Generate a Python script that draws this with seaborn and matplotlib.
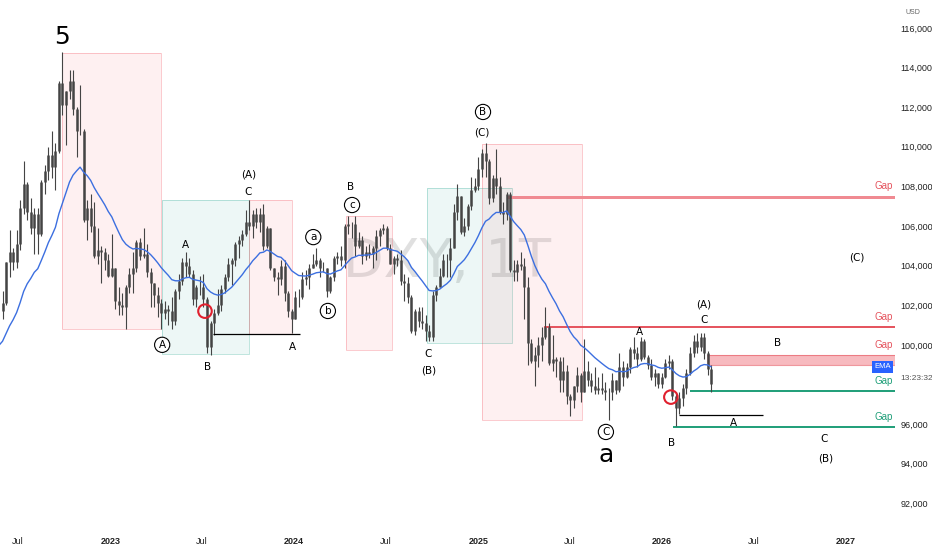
import pandas as pd
import matplotlib
matplotlib.use("Agg")
import matplotlib.pyplot as plt
import matplotlib.dates as mdates
from matplotlib import font_manager
from matplotlib.patches import Rectangle
from matplotlib.ticker import FuncFormatter, FixedLocator
import seaborn as sns

# weekly closes before the visible window (only used to warm up the EMA)
warmup_close = [95.7, 95.2, 95.6, 97.3, 95.5, 96.1, 96.1, 96.6, 98.6, 99.1,
                98.2, 98.8, 98.6, 99.8, 100.5, 101.1, 103.0, 103.7, 104.6, 103.2]

# weekly candles, week ending 2022-05-27 ... 2026-04-10
weekly_close = [
    101.7, 102.1, 104.2, 104.7, 104.2, 105.1, 106.9, 108.1, 106.7, 105.9,
    106.6, 105.6, 108.2, 108.8, 109.6, 109.0, 109.8, 113.2, 112.1, 112.8,
    113.3, 111.9, 110.8, 110.8, 106.3, 106.9, 106.0, 104.5, 104.8, 104.7,
    104.3, 103.5,
    # 2023
    103.9, 102.2, 102.0, 101.9, 102.9, 103.6, 103.9, 105.2, 104.5, 104.6,
    103.7, 103.1, 102.5, 102.1, 101.6, 101.8, 101.7, 101.2, 102.7, 103.2,
    104.2, 104.0, 103.6, 102.3, 102.9, 102.9, 102.3, 99.9, 101.1, 101.6,
    102.0, 102.8, 103.4, 104.1, 104.3, 105.1, 105.3, 105.6, 106.2, 106.0,
    106.6, 106.2, 106.6, 105.0, 105.9, 103.9, 103.4, 103.3, 104.0, 102.6,
    101.7, 101.3,
    # 2024
    102.4, 102.4, 103.3, 103.4, 103.9, 104.1, 104.3, 103.9, 103.9, 102.7,
    103.4, 104.4, 104.5, 104.3, 106.0, 106.1, 106.1, 105.0, 105.3, 104.5,
    104.7, 104.6, 104.9, 105.5, 105.8, 105.9, 104.9, 104.1, 104.4, 104.3,
    103.2, 103.1, 102.4, 100.7, 101.7, 101.2, 101.1, 100.7, 100.4, 102.5,
    102.9, 103.5, 104.3, 104.3, 104.9, 106.7, 107.5, 105.7, 106.0, 107.0,
    107.8, 108.0,
    # 2025
    108.9, 109.7, 109.3, 107.4, 108.4, 108.0, 106.7, 106.6, 107.6, 103.8,
    103.7, 104.1, 104.0, 102.9, 100.1, 99.2, 99.5, 100.0, 100.4, 100.9,
    99.1, 99.3, 99.2, 98.2, 98.7, 97.4, 97.2, 97.9, 98.5, 97.6,
    98.7, 98.2, 97.9, 97.7, 97.8, 97.7, 97.6, 97.6, 98.2, 97.7,
    98.9, 98.4, 98.9, 99.8, 99.6, 99.3, 100.2, 99.4, 99.0, 98.4,
    98.6, 98.0,
    # 2026
    98.4, 99.1, 99.2, 97.4, 96.8, 97.3, 97.8, 98.6, 99.6, 100.2,
    99.9, 100.4, 99.6, 98.8, 98.0,
]
weekly_high = [
    103.3, 102.7, 104.2, 105.8, 104.9, 105.8, 107.3, 109.3, 108.2, 107.4,
    106.9, 106.9, 108.3, 109.1, 110.0, 110.8, 110.2, 113.3, 114.8, 112.8,
    113.9, 113.9, 112.0, 113.1, 110.9, 107.3, 107.6, 107.2, 105.9, 105.0,
    104.9, 104.6,
    105.6, 103.9, 102.9, 102.6, 103.0, 103.9, 104.7, 105.3, 105.4, 105.9,
    105.1, 103.9, 103.1, 102.9, 102.3, 102.2, 102.0, 102.4, 102.8, 103.6,
    104.4, 104.7, 104.4, 103.8, 103.0, 103.5, 103.6, 102.4, 101.2, 101.8,
    102.8, 103.0, 103.6, 104.4, 104.4, 105.2, 105.5, 105.8, 106.8, 107.3,
    106.8, 106.9, 106.9, 107.1, 106.0, 105.9, 103.9, 103.7, 104.3, 104.3,
    102.7, 101.8,
    102.7, 102.8, 103.7, 103.8, 104.1, 104.6, 104.9, 104.4, 104.2, 103.9,
    103.5, 104.5, 104.7, 105.0, 106.1, 106.5, 106.2, 106.5, 105.7, 105.5,
    105.0, 105.1, 105.0, 105.8, 105.9, 106.1, 106.0, 105.1, 104.5, 104.6,
    104.8, 103.6, 103.4, 102.5, 101.8, 101.9, 101.9, 101.5, 101.0, 102.7,
    103.0, 103.9, 104.6, 104.6, 105.4, 107.1, 108.1, 107.5, 106.4, 107.1,
    108.5, 108.4,
    109.5, 109.9, 110.2, 109.4, 108.6, 109.9, 108.5, 107.2, 107.7, 107.7,
    104.3, 104.3, 104.7, 104.4, 103.4, 100.3, 99.9, 100.4, 100.9, 101.9,
    101.1, 100.5, 99.4, 99.4, 99.4, 99.0, 97.5, 97.9, 98.9, 98.6,
    100.3, 99.2, 98.6, 98.9, 98.4, 98.6, 98.1, 97.8, 98.6, 98.2,
    99.6, 99.2, 99.1, 99.9, 100.4, 99.9, 100.4, 100.3, 99.5, 99.3,
    98.8, 98.6,
    98.6, 99.3, 99.5, 99.3, 97.6, 97.6, 98.0, 98.8, 99.9, 100.5,
    100.6, 100.6, 100.6, 99.7, 99.0,
]
weekly_low = [
    101.4, 101.3, 102.0, 103.4, 103.8, 103.9, 104.8, 106.6, 106.3, 105.6,
    104.6, 104.6, 105.5, 107.6, 108.3, 108.4, 107.8, 109.7, 111.6, 110.1,
    112.4, 111.6, 109.5, 110.6, 106.2, 105.3, 105.7, 104.4, 104.1, 103.1,
    103.8, 103.4,
    103.4, 101.8, 101.5, 101.5, 100.8, 102.6, 102.6, 103.7, 104.3, 104.4,
    103.4, 101.9, 101.9, 101.4, 100.8, 101.3, 101.0, 100.8, 101.0, 102.3,
    103.0, 103.4, 103.4, 102.0, 101.9, 102.5, 101.9, 99.6, 99.5, 100.5,
    101.5, 101.7, 102.6, 103.2, 103.0, 104.0, 104.4, 105.0, 105.5, 105.8,
    105.4, 105.9, 105.7, 104.8, 104.9, 103.8, 103.2, 102.5, 103.0, 102.2,
    101.4, 100.6,
    101.3, 101.9, 102.3, 103.0, 102.8, 103.9, 104.0, 103.4, 103.7, 102.4,
    102.6, 103.2, 104.1, 104.0, 103.9, 105.6, 105.4, 104.5, 104.9, 104.1,
    104.3, 104.4, 103.9, 104.3, 105.0, 105.6, 104.8, 104.1, 103.6, 104.0,
    103.0, 102.2, 102.1, 100.6, 100.5, 100.9, 100.8, 100.2, 100.2, 100.2,
    102.2, 102.9, 103.4, 103.4, 103.4, 104.9, 106.3, 105.6, 105.5, 105.8,
    106.8, 107.7,
    107.8, 108.5, 108.5, 107.1, 107.2, 107.6, 106.6, 106.1, 106.3, 103.7,
    103.2, 103.2, 103.8, 101.3, 99.0, 99.1, 97.9, 98.9, 99.2, 100.3,
    99.0, 98.7, 98.4, 97.6, 97.6, 97.0, 96.4, 96.8, 97.6, 97.1,
    97.6, 97.9, 97.6, 97.5, 97.5, 97.5, 97.2, 96.2, 97.2, 97.5,
    97.6, 97.9, 98.3, 98.6, 99.3, 98.9, 99.2, 99.3, 98.8, 98.2,
    97.9, 97.8,
    97.8, 98.3, 98.8, 97.2, 95.9, 96.5, 96.9, 97.5, 98.5, 99.4,
    99.6, 99.7, 99.3, 98.5, 97.6,
]

# analysis boxes (time window and price range)
box_start = ["2022-09-28", "2023-04-14", "2023-10-03", "2024-04-13", "2024-09-21", "2025-01-08"]
box_end = ["2023-04-12", "2023-10-03", "2023-12-28", "2024-07-13", "2025-03-09", "2025-07-25"]
box_top = [114.75, 107.3, 107.3, 106.5, 107.9, 110.15]
box_bottom = [100.8, 99.55, 100.55, 99.75, 100.1, 96.2]
box_kind = ["down", "up", "down", "down", "up", "down"]

# open price gaps
gap_start = ["2025-02-27", "2025-05-12", "2026-03-31", "2026-02-24", "2026-01-22"]
gap_low = [107.38, 100.9, 99.0, 97.67, 95.85]
gap_high = [107.52, 100.9, 99.5, 97.67, 95.85]
gap_side = ["bear", "bear", "bear", "bull", "bull"]

# horizontal reference levels
level_start = ["2023-07-24", "2026-02-03"]
level_end = ["2024-01-12", "2026-07-19"]
level_price = [100.55, 96.45]

# circled breaks
ring_date = ["2023-07-08", "2026-01-18"]
ring_price = [101.7, 97.36]

# Elliott wave labels
wave_text = ["5", "A", "A", "B", "(A)", "C", "A", "a", "b", "B", "c", "C", "(B)",
             "B", "(C)", "C", "a", "A", "B", "(A)", "C", "B", "A", "C", "(B)", "(C)"]
wave_date = ["2022-09-28", "2023-04-14", "2023-05-30", "2023-07-14", "2023-10-02",
             "2023-10-02", "2023-12-28", "2024-02-08", "2024-03-08", "2024-04-23",
             "2024-04-25", "2024-09-23", "2024-09-24", "2025-01-10", "2025-01-08",
             "2025-09-11", "2025-09-11", "2025-11-16", "2026-01-20", "2026-03-24",
             "2026-03-24", "2026-08-17", "2026-05-23", "2026-11-19", "2026-11-21",
             "2027-01-23"]
wave_price = [115.55, 100.0, 105.04, 98.88, 108.58, 107.72, 99.89, 105.44, 101.71,
              107.97, 107.06, 99.54, 98.68, 111.76, 110.70, 95.60, 94.45, 100.65,
              95.04, 102.06, 101.25, 100.09, 96.05, 95.24, 94.28, 104.43]
wave_style = ["big", "circle", "plain", "plain", "plain", "plain", "plain", "circle",
              "circle", "plain", "circle", "plain", "plain", "circle", "plain",
              "circle", "big", "plain", "plain", "plain", "plain", "plain", "plain",
              "plain", "plain", "plain"]

# 98 is hidden behind the live price tag on the price scale
y_ticks = [92, 94, 96, 100, 102, 104, 106, 108, 110, 112, 114, 116]
x_tick_dates = ["2022-07-01", "2023-01-01", "2023-07-01", "2024-01-01", "2024-07-01",
                "2025-01-01", "2025-07-01", "2026-01-01", "2026-07-01", "2027-01-01"]

sns.set_theme(style="white")
names = {f.name for f in font_manager.fontManager.ttflist}
narrow = "Liberation Sans Narrow" if "Liberation Sans Narrow" in names else "Liberation Sans"
plt.rcParams["font.family"] = ["DejaVu Sans"]

# build the candle table
dates = pd.date_range("2022-05-27", periods=len(weekly_close), freq="W-FRI") - pd.Timedelta(days=2)
df = pd.DataFrame({"date": dates, "close": weekly_close,
                   "high": weekly_high, "low": weekly_low})
df["open"] = [warmup_close[-1]] + weekly_close[:-1]
all_close = pd.Series(warmup_close + weekly_close)
df["ema"] = all_close.ewm(span=20, adjust=False).mean().iloc[len(warmup_close):].values

fig = plt.figure(figsize=(9.32, 5.5), dpi=100)
ax = fig.add_axes([0, 23 / 550, 895 / 932, 527 / 550])
x_left = pd.Timestamp("2022-05-27")
x_right = pd.Timestamp("2027-04-08")

# boxes
for s, e, top, bot, kind in zip(box_start, box_end, box_top, box_bottom, box_kind):
    x0 = mdates.date2num(pd.Timestamp(s))
    x1 = mdates.date2num(pd.Timestamp(e))
    col = "#f23645" if kind == "down" else "#089981"
    ax.add_patch(Rectangle((x0, bot), x1 - x0, top - bot, facecolor=col, alpha=0.07,
                           edgecolor="none", zorder=1))
    ax.add_patch(Rectangle((x0, bot), x1 - x0, top - bot, facecolor="none",
                           edgecolor=col, alpha=0.3, lw=0.6, zorder=1))

# watermark
ax.text(0.5, 0.503, "DXY, 1T", transform=ax.transAxes, ha="center", va="center",
        fontsize=38, color="#d4d4d4", alpha=0.7, zorder=0.5)

# candles
body_lo = df[["open", "close"]].min(axis=1)
body_hi = df[["open", "close"]].max(axis=1)
ax.vlines(df["date"], df["low"], df["high"], color="#444444", lw=0.8, zorder=3)
ax.vlines(df["date"], body_lo, body_hi, color="#444444", lw=1.8, zorder=3)

# EMA
sns.lineplot(data=df, x="date", y="ema", ax=ax, color="#3c6fe0", lw=1.0, zorder=4,
             legend=False)

# gaps
for s, lo, hi, side in zip(gap_start, gap_low, gap_high, gap_side):
    col = "#e5525c" if side == "bear" else "#1e9e78"
    xs = pd.Timestamp(s)
    if hi - lo > 0.3:
        ax.fill_between([xs, x_right], lo, hi, color="#f5a9b0", alpha=0.8, lw=0, zorder=2)
        ax.hlines([lo, hi], xs, x_right, color=col, lw=0.8, alpha=0.6, zorder=2)
    elif hi > lo:
        ax.fill_between([xs, x_right], lo, hi, color="#f08a92", lw=0, zorder=2)
    else:
        ax.hlines(lo, xs, x_right, color=col, lw=1.4, zorder=2)
    ax.annotate("Gap", xy=(1, hi), xycoords=ax.get_yaxis_transform(),
                xytext=(-2, 10), textcoords="offset pixels", ha="right", va="center",
                fontsize=7, color=col, family=narrow)

# black levels
for s, e, p in zip(level_start, level_end, level_price):
    ax.hlines(p, pd.Timestamp(s), pd.Timestamp(e), color="black", lw=0.9, zorder=3)

# red rings
ax.scatter(pd.to_datetime(ring_date), ring_price, s=95, facecolors="none",
           edgecolors="#e0202e", linewidths=1.5, zorder=5)

# wave labels
for t, d, p, st in zip(wave_text, wave_date, wave_price, wave_style):
    xd = pd.Timestamp(d)
    if st == "big":
        ax.text(xd, p, t, ha="center", va="center", fontsize=18, color="black", zorder=6)
    elif st == "circle":
        ax.text(xd, p, t, ha="center", va="center", fontsize=7.5, color="black", zorder=6,
                bbox=dict(boxstyle="circle,pad=0.25", fc="white", ec="black", lw=0.8))
    else:
        ax.text(xd, p, t, ha="center", va="center", fontsize=7.5, color="black", zorder=6)

# EMA tag at right edge
ax.annotate("EMA", xy=(1, df["ema"].iloc[-1]), xycoords=ax.get_yaxis_transform(),
            xytext=(-4, 0), textcoords="offset pixels", ha="right", va="center",
            fontsize=5.5, color="white", family=narrow, zorder=7,
            bbox=dict(boxstyle="square,pad=0.3", fc="#2962ff", ec="none"))
ax.annotate("13:23:32", xy=(1, df["close"].iloc[-1]), xycoords=ax.get_yaxis_transform(),
            xytext=(5, 6), textcoords="offset pixels", ha="left", va="center",
            fontsize=6, color="#555555", family=narrow, annotation_clip=False)
fig.text(905 / 932, 1 - 12 / 550, "USD", fontsize=5, color="#666666", family=narrow,
         ha="left", va="center")

# axes
ax.set_xlim(x_left, x_right)
ax.set_ylim(90.80, 117.414)
ax.yaxis.tick_right()
ax.yaxis.set_major_locator(FixedLocator(y_ticks))
ax.yaxis.set_major_formatter(FuncFormatter(lambda v, p: f"{v:.3f}".replace(".", ",")))
tick_pos = pd.to_datetime(x_tick_dates)
ax.set_xticks(tick_pos)
ax.set_xticklabels([str(t.year) if t.month == 1 else "Jul" for t in tick_pos])
for lab, t in zip(ax.get_xticklabels(), tick_pos):
    if t.month == 1:
        lab.set_fontweight("bold")
ax.tick_params(axis="both", length=0, labelsize=6.5, colors="#222222")
ax.tick_params(axis="x", pad=7)
ax.tick_params(axis="y", pad=4)
for lab in ax.get_xticklabels() + ax.get_yticklabels():
    lab.set_family(narrow)
ax.set_xlabel("")
ax.set_ylabel("")
for sp in ax.spines.values():
    sp.set_visible(False)
ax.grid(False)

fig.savefig("out.png", dpi=100, facecolor="white")
